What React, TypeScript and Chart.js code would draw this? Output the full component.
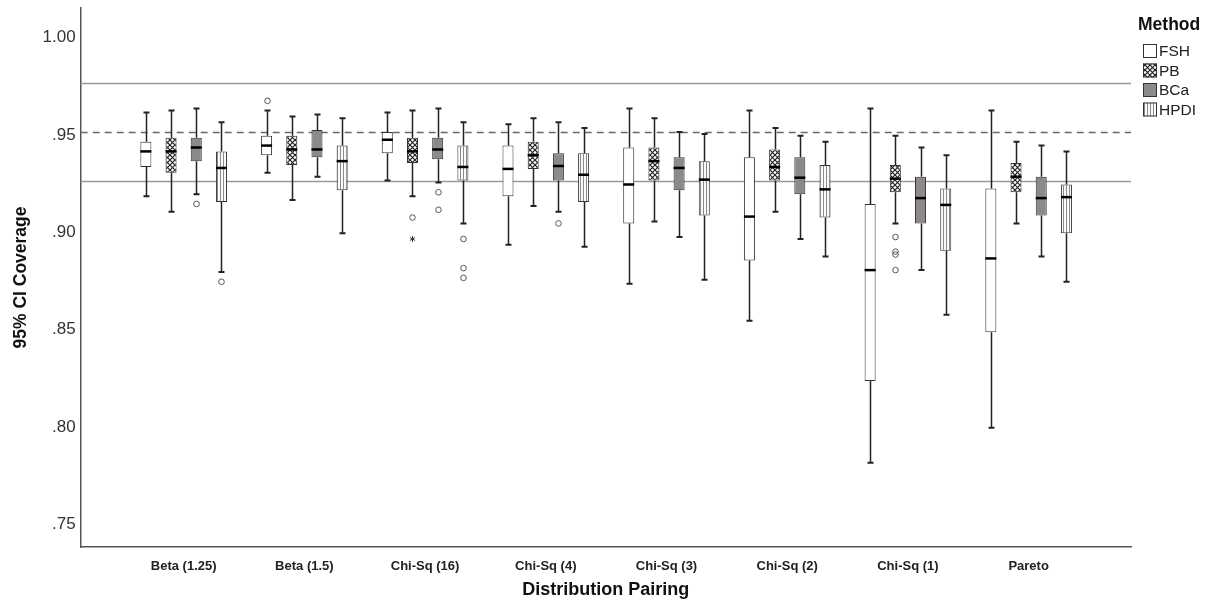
import { useEffect, useRef } from 'react';
import { Chart, registerables } from 'chart.js';

Chart.register(...registerables);

// Distribution pairings along the x axis
const CATEGORIES = [
  'Beta (1.25)',
  'Beta (1.5)',
  'Chi-Sq (16)',
  'Chi-Sq (4)',
  'Chi-Sq (3)',
  'Chi-Sq (2)',
  'Chi-Sq (1)',
  'Pareto',
];

const METHODS = ['FSH', 'PB', 'BCa', 'HPDI'];

// Five-number summaries per pairing: [lower whisker, Q1, median, Q3, upper whisker]
const FSH_BOX = [
  [0.917, 0.932, 0.940, 0.945, 0.960],
  [0.929, 0.938, 0.943, 0.948, 0.961],
  [0.925, 0.939, 0.946, 0.950, 0.960],
  [0.892, 0.917, 0.931, 0.943, 0.954],
  [0.872, 0.903, 0.923, 0.942, 0.962],
  [0.853, 0.884, 0.9065, 0.937, 0.961],
  [0.780, 0.822, 0.879, 0.913, 0.962],
  [0.798, 0.847, 0.885, 0.921, 0.961],
];
const PB_BOX = [
  [0.909, 0.929, 0.940, 0.947, 0.961],
  [0.915, 0.933, 0.941, 0.948, 0.958],
  [0.917, 0.934, 0.940, 0.947, 0.961],
  [0.912, 0.931, 0.938, 0.945, 0.957],
  [0.904, 0.925, 0.935, 0.942, 0.957],
  [0.909, 0.925, 0.932, 0.941, 0.952],
  [0.903, 0.919, 0.926, 0.933, 0.948],
  [0.903, 0.919, 0.927, 0.934, 0.945],
];
const BCA_BOX = [
  [0.918, 0.935, 0.942, 0.947, 0.962],
  [0.927, 0.937, 0.941, 0.951, 0.959],
  [0.924, 0.936, 0.941, 0.947, 0.962],
  [0.909, 0.925, 0.9325, 0.939, 0.955],
  [0.896, 0.920, 0.9315, 0.937, 0.950],
  [0.895, 0.918, 0.9265, 0.937, 0.948],
  [0.879, 0.903, 0.916, 0.927, 0.942],
  [0.886, 0.907, 0.916, 0.927, 0.943],
];
const HPDI_BOX = [
  [0.878, 0.914, 0.9315, 0.940, 0.955],
  [0.898, 0.920, 0.935, 0.943, 0.957],
  [0.903, 0.925, 0.932, 0.943, 0.955],
  [0.891, 0.914, 0.928, 0.939, 0.952],
  [0.874, 0.907, 0.9255, 0.935, 0.949],
  [0.886, 0.906, 0.9205, 0.933, 0.945],
  [0.856, 0.889, 0.9125, 0.921, 0.938],
  [0.873, 0.898, 0.9165, 0.923, 0.940],
];

// Outliers: [pairing index, coverage]
const FSH_OUTLIERS = [[1, 0.966]];
const PB_OUTLIERS = [[2, 0.906], [6, 0.896], [6, 0.8885], [6, 0.887], [6, 0.879]];
const BCA_OUTLIERS = [[0, 0.913], [2, 0.919], [2, 0.910], [3, 0.903]];
const HPDI_OUTLIERS = [[0, 0.873], [2, 0.895], [2, 0.880], [2, 0.875]];

// Extreme values (drawn as asterisks)
const PB_EXTREMES = [[2, 0.895]];

const BOXES = [FSH_BOX, PB_BOX, BCA_BOX, HPDI_BOX];
const OUTLIERS = [FSH_OUTLIERS, PB_OUTLIERS, BCA_OUTLIERS, HPDI_OUTLIERS];
const EXTREMES = [[], PB_EXTREMES, [], []];

const Y_TICKS = [0.75, 0.8, 0.85, 0.9, 0.95, 1.0];
const NOMINAL = 0.95;
const BOUNDS = [0.925, 0.975];

const FONT = "'Liberation Sans', Arial, Helvetica, sans-serif";

function makePattern(kind: 'cross' | 'vert'): CanvasPattern | string {
  const c = document.createElement('canvas');
  const ctx = c.getContext('2d');
  if (!ctx) return '#fff';
  if (kind === 'cross') {
    c.width = 5;
    c.height = 5;
    ctx.fillStyle = '#fff';
    ctx.fillRect(0, 0, 5, 5);
    ctx.strokeStyle = '#222';
    ctx.lineWidth = 1.2;
    ctx.beginPath();
    ctx.moveTo(-1, -1);
    ctx.lineTo(6, 6);
    ctx.moveTo(6, -1);
    ctx.lineTo(-1, 6);
    ctx.stroke();
  } else {
    c.width = 3;
    c.height = 3;
    ctx.fillStyle = '#fafafa';
    ctx.fillRect(0, 0, 3, 3);
    ctx.fillStyle = '#8a8a8a';
    ctx.fillRect(1, 0, 1, 3);
  }
  return ctx.createPattern(c, 'repeat') || '#fff';
}

const boxPlotExtras = {
  id: 'boxPlotExtras',
  beforeDatasetsDraw(chart: any) {
    const { ctx, chartArea: a, scales } = chart;
    const y = scales.y;
    ctx.save();
    ctx.lineWidth = 1.5;
    ctx.strokeStyle = '#9a9a9a';
    BOUNDS.forEach((v) => {
      const py = Math.round(y.getPixelForValue(v)) + 0.5;
      ctx.beginPath();
      ctx.moveTo(a.left, py);
      ctx.lineTo(a.right, py);
      ctx.stroke();
    });
    ctx.strokeStyle = '#6a6a6a';
    ctx.setLineDash([7, 5]);
    const pn = Math.round(y.getPixelForValue(NOMINAL)) + 0.5;
    ctx.beginPath();
    ctx.moveTo(a.left, pn);
    ctx.lineTo(a.right, pn);
    ctx.stroke();
    ctx.restore();
  },
  afterDatasetsDraw(chart: any) {
    const { ctx, scales } = chart;
    const y = scales.y;
    ctx.save();
    BOXES.forEach((rows, k) => {
      const meta = chart.getDatasetMeta(k);
      rows.forEach((s, i) => {
        const bar = meta.data[i];
        if (!bar) return;
        const { x, width } = bar.getProps(['x', 'width'], true);
        const cx = Math.round(x) + 0.5;
        const [lo, q1, med, q3, hi] = s.map((v: number) => y.getPixelForValue(v));
        // whiskers
        ctx.strokeStyle = '#222';
        ctx.lineWidth = 1.5;
        ctx.beginPath();
        ctx.moveTo(cx, q3);
        ctx.lineTo(cx, hi);
        ctx.moveTo(cx, q1);
        ctx.lineTo(cx, lo);
        ctx.stroke();
        // caps
        ctx.lineWidth = 2;
        ctx.beginPath();
        ctx.moveTo(cx - 3, hi);
        ctx.lineTo(cx + 3, hi);
        ctx.moveTo(cx - 3, lo);
        ctx.lineTo(cx + 3, lo);
        ctx.stroke();
        // median
        ctx.strokeStyle = '#000';
        ctx.lineWidth = 2.5;
        ctx.beginPath();
        ctx.moveTo(x - width / 2, med);
        ctx.lineTo(x + width / 2, med);
        ctx.stroke();
      });
      ctx.strokeStyle = '#555';
      ctx.lineWidth = 1;
      OUTLIERS[k].forEach(([i, v]) => {
        const bar = meta.data[i];
        if (!bar) return;
        const { x } = bar.getProps(['x'], true);
        ctx.beginPath();
        ctx.arc(Math.round(x) + 0.5, y.getPixelForValue(v), 2.8, 0, Math.PI * 2);
        ctx.stroke();
      });
      EXTREMES[k].forEach(([i, v]) => {
        const bar = meta.data[i];
        if (!bar) return;
        const { x } = bar.getProps(['x'], true);
        const px = Math.round(x) + 0.5;
        const py = y.getPixelForValue(v);
        ctx.strokeStyle = '#333';
        ctx.lineWidth = 1;
        ctx.beginPath();
        for (let t = 0; t < 3; t++) {
          const ang = Math.PI / 2 + (t * Math.PI) / 3;
          ctx.moveTo(px + Math.cos(ang) * 3, py + Math.sin(ang) * 3);
          ctx.lineTo(px - Math.cos(ang) * 3, py - Math.sin(ang) * 3);
        }
        ctx.stroke();
      });
    });
    ctx.restore();
  },
  afterDraw(chart: any) {
    const { ctx } = chart;
    const datasets = chart.data.datasets;
    ctx.save();
    ctx.textBaseline = 'middle';
    ctx.textAlign = 'left';
    ctx.fillStyle = '#111';
    ctx.font = `bold 17.5px ${FONT}`;
    ctx.fillText('Method', 1138, 25);
    ctx.font = `15.5px ${FONT}`;
    datasets.forEach((ds: any, k: number) => {
      const cy = 51 + 19.5 * k;
      ctx.fillStyle = ds.backgroundColor;
      ctx.fillRect(1143, cy - 7, 14, 14);
      ctx.strokeStyle = '#333';
      ctx.lineWidth = 1;
      ctx.strokeRect(1143.5, cy - 6.5, 13, 13);
      ctx.fillStyle = '#222';
      ctx.fillText(ds.label, 1159, cy + 1);
    });
    ctx.restore();
  },
};

export default function App() {
  const ref = useRef<HTMLCanvasElement>(null);

  useEffect(() => {
    const canvas = ref.current;
    if (!canvas) return;
    const fills = ['#ffffff', makePattern('cross'), '#8d888b', makePattern('vert')];

    const chart = new Chart(canvas, {
      type: 'bar',
      data: {
        datasets: METHODS.map((m, k) => ({
          label: m,
          data: BOXES[k].map((s, i) => ({ x: i, y: [s[1], s[3]] })),
          backgroundColor: fills[k] as any,
          borderColor: '#333',
          borderWidth: 1,
          borderSkipped: false,
          categoryPercentage: 0.835,
          barPercentage: 0.437,
        })),
      },
      options: {
        responsive: false,
        animation: false,
        events: [],
        layout: { padding: { top: 8, right: 76, left: 0, bottom: 0 } },
        plugins: {
          legend: { display: false },
          tooltip: { enabled: false },
        },
        scales: {
          x: {
            type: 'linear',
            min: -0.853,
            max: 7.848,
            offset: false,
            grid: { display: false, drawTicks: false },
            border: { display: true, color: '#555', width: 1.5 },
            afterBuildTicks: (s: any) => {
              s.ticks = CATEGORIES.map((_, i) => ({ value: i }));
            },
            afterFit: (s: any) => {
              s.height = 55;
              s.paddingLeft = 0;
              s.paddingRight = 0;
            },
            ticks: {
              autoSkip: false,
              maxRotation: 0,
              minRotation: 0,
              padding: 12,
              color: '#222',
              font: { family: FONT, size: 13, weight: 'bold' },
              callback: (v: any) => CATEGORIES[Number(v)] ?? '',
            },
            title: {
              display: true,
              text: 'Distribution Pairing',
              color: '#111',
              font: { family: FONT, size: 18, weight: 'bold' },
              padding: { top: 0, bottom: 1 },
            },
          },
          y: {
            type: 'linear',
            min: 0.7367,
            max: 1.0137,
            grid: { display: false, drawTicks: false },
            border: { display: true, color: '#555', width: 1.5 },
            afterBuildTicks: (s: any) => {
              s.ticks = Y_TICKS.map((v) => ({ value: v }));
            },
            afterFit: (s: any) => {
              s.width = 80.7;
              s.paddingTop = 0;
              s.paddingBottom = 0;
            },
            ticks: {
              padding: 5,
              labelOffset: 3,
              color: '#333',
              font: { family: FONT, size: 17 },
              callback: (v: any) => Number(v).toFixed(2).replace(/^0/, ''),
            },
            title: {
              display: true,
              text: '95% CI Coverage',
              color: '#111',
              font: { family: FONT, size: 17.5, weight: 'bold' },
              padding: { top: 11, bottom: 0 },
            },
          },
        },
      } as any,
      plugins: [boxPlotExtras],
    });

    return () => chart.destroy();
  }, []);

  return (
    <div
      style={{
        position: 'fixed',
        left: 0,
        top: 0,
        width: 1207,
        height: 602,
        background: '#fff',
      }}
    >
      <canvas ref={ref} width={1207} height={602} style={{ display: 'block' }} />
    </div>
  );
}
